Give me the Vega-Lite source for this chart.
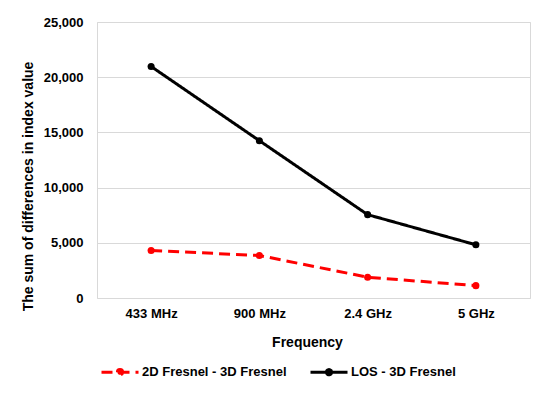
{
  "$schema": "https://vega.github.io/schema/vega-lite/v6.json",
  "width": 433,
  "height": 276,
  "autosize": {"type": "none"},
  "padding": {"left": 97, "top": 22, "right": 20, "bottom": 98},
  "background": "white",
  "data": {
    "values": [
      {"freq": "433 MHz", "series": "2D Fresnel - 3D Fresnel", "value": 4300},
      {"freq": "900 MHz", "series": "2D Fresnel - 3D Fresnel", "value": 3850},
      {"freq": "2.4 GHz", "series": "2D Fresnel - 3D Fresnel", "value": 1880},
      {"freq": "5 GHz", "series": "2D Fresnel - 3D Fresnel", "value": 1120},
      {"freq": "433 MHz", "series": "LOS - 3D Fresnel", "value": 20970},
      {"freq": "900 MHz", "series": "LOS - 3D Fresnel", "value": 14250},
      {"freq": "2.4 GHz", "series": "LOS - 3D Fresnel", "value": 7550},
      {"freq": "5 GHz", "series": "LOS - 3D Fresnel", "value": 4820}
    ]
  },
  "encoding": {
    "x": {
      "field": "freq",
      "type": "nominal",
      "sort": null,
      "scale": {"type": "point", "padding": 0.5},
      "axis": {
        "title": "Frequency",
        "labelAngle": 0,
        "labelPadding": 9,
        "grid": false,
        "titleY": 44,
        "titleX": 210,
        "titleBaseline": "middle"
      }
    },
    "y": {
      "field": "value",
      "type": "quantitative",
      "scale": {"domain": [0, 25000]},
      "axis": {
        "title": "The sum of differences in index value",
        "values": [0, 5000, 10000, 15000, 20000, 25000],
        "format": ",.0f",
        "labelPadding": 14,
        "titleX": -69,
        "titleY": 164,
        "titleBaseline": "middle",
        "titleAlign": "center"
      }
    },
    "color": {
      "field": "series",
      "type": "nominal",
      "scale": {"domain": ["2D Fresnel - 3D Fresnel", "LOS - 3D Fresnel"], "range": ["#ff0000", "#000000"]},
      "legend": {
        "title": null,
        "orient": "none",
        "legendX": 3,
        "legendY": 330,
        "direction": "horizontal",
        "symbolType": "M-1,0H1M-0.14,0A0.14,0.14,0,1,1,0.14,0A0.14,0.14,0,1,1,-0.14,0Z",
        "symbolSize": 1369,
        "symbolStrokeWidth": 3,
        "labelOffset": 2,
        "columnPadding": 17,
        "labelFontSize": 13,
        "labelFontWeight": "bold",
        "labelColor": "#000000",
        "labelFont": "Liberation Sans"
      }
    }
  },
  "layer": [
    {
      "mark": {"type": "line", "strokeWidth": 3},
      "encoding": {
        "strokeDash": {
          "field": "series",
          "type": "nominal",
          "scale": {"domain": ["2D Fresnel - 3D Fresnel", "LOS - 3D Fresnel"], "range": [[11, 6], [1, 0]]},
          "legend": {
            "title": null,
            "orient": "none",
            "legendX": 3,
            "legendY": 330,
            "direction": "horizontal",
            "symbolType": "M-1,0H1M-0.14,0A0.14,0.14,0,1,1,0.14,0A0.14,0.14,0,1,1,-0.14,0Z",
            "symbolSize": 1369,
            "symbolStrokeWidth": 3,
            "labelOffset": 2,
            "columnPadding": 17,
            "labelFontSize": 13,
            "labelFontWeight": "bold",
            "labelColor": "#000000",
            "labelFont": "Liberation Sans"
          }
        }
      }
    },
    {
      "mark": {"type": "point", "filled": true, "size": 50, "opacity": 1}
    }
  ],
  "config": {
    "font": "Liberation Sans",
    "view": {"stroke": "#d9d9d9", "strokeWidth": 1},
    "axis": {
      "labelFont": "Liberation Sans",
      "labelFontWeight": "bold",
      "labelFontSize": 13,
      "labelColor": "#000000",
      "titleFont": "Liberation Sans",
      "titleFontWeight": "bold",
      "titleFontSize": 14,
      "titleColor": "#000000",
      "ticks": false,
      "domain": false,
      "gridColor": "#d9d9d9",
      "gridWidth": 1
    }
  }
}
